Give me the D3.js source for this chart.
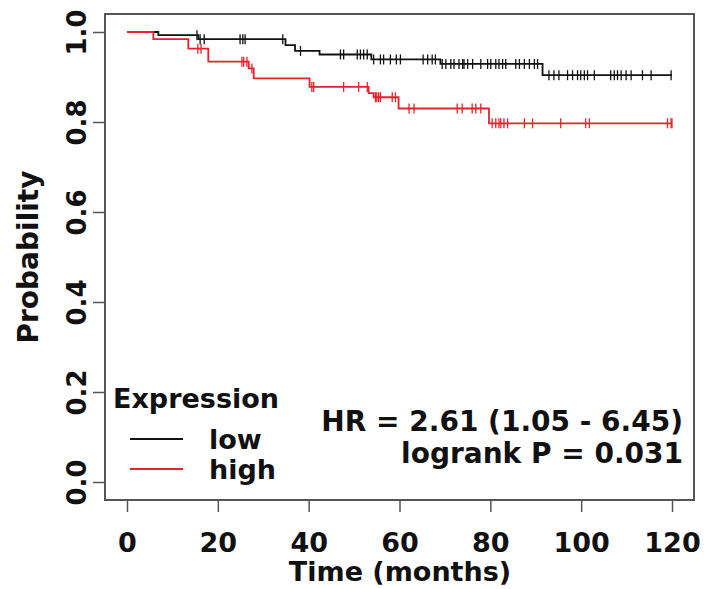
<!DOCTYPE html>
<html>
<head>
<meta charset="utf-8">
<script src="https://cdn.jsdelivr.net/npm/d3@7"></script>
<style>
body { margin: 0; background: #fff; }
text { font-family: "DejaVu Sans", sans-serif; font-weight: bold; fill: #111; }
</style>
</head>
<body>
<svg></svg>
<script>
// step times (months) and survival after each step
var lowTimes = [0, 6.9, 15.7, 34.9, 37.0, 42.4, 53.8, 69.0, 91.5];
var lowSurv = [1.0, 0.993, 0.984, 0.971, 0.958, 0.950, 0.939, 0.929, 0.904];
var lowCensor = [15.4, 16.1, 17.0, 24.9, 25.5, 26.0, 34.3, 38.2, 47.0, 47.7, 50.7, 51.4, 52.1, 52.9,
    54.3, 55.8, 56.5, 58.0, 59.3, 60.2, 65.2, 66.2, 67.2, 67.9, 69.4, 70.2, 71.3, 72.0, 73.1, 73.9,
    74.2, 75.0, 76.1, 77.9, 79.4, 80.1, 81.2, 81.9, 82.7, 83.4, 85.6, 86.4, 87.5, 88.6, 89.7, 90.4,
    92.9, 94.0, 95.1, 97.0, 98.1, 99.2, 99.9, 100.7, 101.4, 102.9, 106.5, 107.3, 108.0, 108.8,
    109.9, 111.0, 113.5, 115.4, 119.8];

var highTimes = [0, 5.8, 13.5, 17.9, 26.8, 27.9, 40.2, 53.2, 54.3, 59.8, 79.7];
var highSurv = [1.0, 0.984, 0.963, 0.934, 0.919, 0.897, 0.878, 0.864, 0.855, 0.830, 0.797];
var highCensor = [15.6, 16.3, 25.3, 25.7, 26.4, 27.5, 40.7, 41.1, 47.7, 51.0, 52.9, 54.7, 55.0,
    55.4, 55.8, 58.4, 59.1, 62.1, 63.2, 72.7, 73.8, 76.0, 76.8, 77.9, 80.4, 81.2, 81.9, 82.3, 83.0,
    83.8, 87.5, 89.3, 95.5, 101.0, 101.8, 119.0, 119.8, 120];

var xTicks = [0, 20, 40, 60, 80, 100, 120];
var yTicks = [0, 0.2, 0.4, 0.6, 0.8, 1.0];

var svg = d3.select("svg").attr("width", 704).attr("height", 589);

var x = d3.scaleLinear().domain([0, 120]).range([127, 672]);
var y = d3.scaleLinear().domain([0, 1]).range([482, 32]);

// plot frame
svg.append("rect")
    .attr("x", 105).attr("y", 14)
    .attr("width", 589).attr("height", 486)
    .attr("fill", "none")
    .attr("stroke", "#555")
    .attr("stroke-width", 2);

// x axis
var gx = svg.append("g")
    .attr("transform", "translate(0,500)")
    .call(d3.axisBottom(x).tickValues(xTicks).tickSize(12).tickPadding(21).tickFormat(d3.format("d")));
gx.select(".domain").remove();
gx.selectAll("line").attr("stroke", "#555").attr("stroke-width", 1.5);
gx.selectAll("text").style("font-size", "27px").attr("fill", "#111");

// y axis
var gy = svg.append("g")
    .attr("transform", "translate(105,0)")
    .call(d3.axisLeft(y).tickValues(yTicks).tickSize(12).tickFormat(d3.format(".1f")));
gy.select(".domain").remove();
gy.selectAll("line").attr("stroke", "#555").attr("stroke-width", 1.5);
gy.selectAll("text")
    .style("font-size", "26px")
    .attr("fill", "#111")
    .attr("x", null).attr("dy", null)
    .attr("text-anchor", "middle")
    .attr("transform", "translate(-19,0) rotate(-90)");

svg.append("text")
    .attr("transform", "translate(38,257) rotate(-90)")
    .attr("text-anchor", "middle")
    .style("font-size", "28px")
    .text("Probability");

svg.append("text")
    .attr("x", 400).attr("y", 581)
    .attr("text-anchor", "middle")
    .style("font-size", "27px")
    .text("Time (months)");

// survival step curves
function stepData(times, surv) {
    var pts = times.map(function (t, i) { return [t, surv[i]]; });
    pts.push([120, surv[surv.length - 1]]);
    return pts;
}
function survAt(times, surv, t) {
    var i = d3.bisectRight(times, t) - 1;
    return surv[Math.max(0, i)];
}

var line = d3.line()
    .x(function (d) { return x(d[0]); })
    .y(function (d) { return y(d[1]); })
    .curve(d3.curveStepAfter);

var groups = [
    { times: lowTimes, surv: lowSurv, censor: lowCensor, color: "#111" },
    { times: highTimes, surv: highSurv, censor: highCensor, color: "#e8222a" }
];

groups.forEach(function (g) {
    svg.append("path")
        .datum(stepData(g.times, g.surv))
        .attr("d", line)
        .attr("fill", "none")
        .attr("stroke", g.color)
        .attr("stroke-width", 1.8);
    svg.append("g").selectAll("line")
        .data(g.censor)
        .enter().append("line")
        .attr("x1", function (d) { return x(d); })
        .attr("x2", function (d) { return x(d); })
        .attr("y1", function (d) { return y(survAt(g.times, g.surv, d)) - 5; })
        .attr("y2", function (d) { return y(survAt(g.times, g.surv, d)) + 5; })
        .attr("stroke", g.color)
        .attr("stroke-width", 1.3);
});

// legend
svg.append("text").attr("x", 113).attr("y", 408).style("font-size", "27px").text("Expression");
var legendItems = [["low", "#111"], ["high", "#e8222a"]];
legendItems.forEach(function (d, i) {
    svg.append("line")
        .attr("x1", 130).attr("x2", 183)
        .attr("y1", 439 + i * 30).attr("y2", 439 + i * 30)
        .attr("stroke", d[1]).attr("stroke-width", 2);
    svg.append("text")
        .attr("x", 209).attr("y", 449 + i * 30)
        .style("font-size", "27px")
        .text(d[0]);
});

// stats
svg.append("text").attr("x", 683).attr("y", 431).attr("text-anchor", "end")
    .style("font-size", "28px").text("HR = 2.61 (1.05 - 6.45)");
svg.append("text").attr("x", 683).attr("y", 463).attr("text-anchor", "end")
    .style("font-size", "28px").text("logrank P = 0.031");
</script>
</body>
</html>
